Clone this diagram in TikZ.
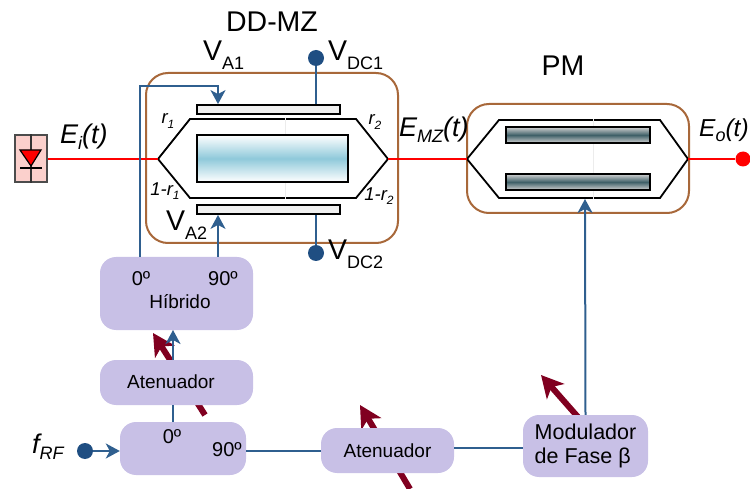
\documentclass[tikz,border=0pt]{standalone}
\usepackage{fontspec}
\setmainfont{Liberation Sans}
\usetikzlibrary{positioning,arrows.meta}
\definecolor{lilac}{HTML}{C8C0E6}
\definecolor{brownbox}{HTML}{A8683A}
\definecolor{bluewire}{HTML}{2F5F8F}
\definecolor{bluedot}{HTML}{1F4E82}
\definecolor{maroon}{HTML}{800020}
\definecolor{pinkbox}{HTML}{FBD0CC}
\definecolor{corecyan}{HTML}{8FC9DA}
\definecolor{armdark}{HTML}{3F6068}
\newcommand{\fsz}[1]{\fontsize{#1}{#1}\selectfont}
\newcommand{\lowsub}[1]{\raisebox{-0.32em}{\fsz{18}#1}}
\newcommand{\itsub}[1]{\raisebox{-0.22em}{\fsz{18}#1}}
\tikzstyle{line}=[draw, line width=2pt]
\tikzstyle{wire}=[line, bluewire]
\tikzstyle{wirearrow}=[wire, -{Stealth[length=14pt,width=15pt,inset=4pt]}]
\tikzstyle{optic}=[line, red]
\tikzstyle{guide}=[line, black, line width=1.8pt, line join=miter]
\tikzstyle{tune}=[draw=maroon, line width=6pt, -{Stealth[length=22pt,width=23pt,inset=6pt]}]
\tikzstyle{lilacbox}=[fill=lilac, rounded corners=16pt, inner sep=0pt]
\tikzstyle{brownframe}=[draw=brownbox, line width=2pt, rounded corners=22pt, inner sep=0pt]
\tikzstyle{plate}=[draw=black, line width=1.8pt, inner sep=0pt, fill=gray!12]
\tikzstyle{darkplate}=[plate, minimum width=144pt, minimum height=16pt, top color=gray!35, bottom color=gray!35, middle color=armdark]
\tikzstyle{dot}=[circle, fill=bluedot, minimum size=16pt, inner sep=0pt]
\tikzstyle{big}=[font=\fsz{28.5}, inner sep=0pt]
\tikzstyle{small}=[font=\fsz{19}, inner sep=0pt]
\tikzstyle{degree}=[font=\fsz{20}, inner sep=0pt]
\tikzstyle{ratio}=[font=\fsz{18.5}\itshape, inner sep=0pt]

\begin{document}
\begin{tikzpicture}[x=1pt, y=-1pt]
    \useasboundingbox (0,0) rectangle (750,489);
    \coordinate (tunea) at (205,415);
    \coordinate (tuneatip) at (153,333);
    \coordinate (tuneb) at (410,489);
    \coordinate (tunebtip) at (360,405);
    \coordinate (tunec) at (585,425);
    \coordinate (tunectip) at (541,375);
    \path[tune] (tunea) -- (tuneatip);
    \path[tune] (tuneb) -- (tunebtip);
    \path[tune] (tunec) -- (tunectip);

    \node[brownframe, minimum width=252pt, minimum height=170pt] (mzframe) at (272,158) {};
    \node[brownframe, minimum width=222pt, minimum height=109pt] (pmframe) at (578,158.5) {};

    \coordinate (mzin) at (158,159);
    \coordinate (mzout) at (388,159);
    \coordinate (pmin) at (467,159);
    \coordinate (pmout) at (688,159);
    \path[guide] (mzin) -- (190,119) -- (356,119) -- (mzout) -- (356,198) -- (190,198) -- cycle;
    \path[guide] (pmin) -- (499,120) -- (660,120) -- (pmout) -- (660,198) -- (499,198) -- cycle;
    \draw[gray!15, line width=1pt] (285,118) -- (285,199);
    \draw[gray!15, line width=1pt] (593,119) -- (593,199);

    \node[plate, minimum width=143pt, minimum height=9pt] (plateup) at (268.5,109.5) {};
    \node[plate, minimum width=143pt, minimum height=9pt] (platedown) at (268.5,209.5) {};
    \node[plate, minimum width=151pt, minimum height=47pt, top color=white, bottom color=white, middle color=corecyan] (core) at (272.5,158.5) {};
    \node[darkplate] (armup) at (578,135) {};
    \node[darkplate] (armdown) at (578,182) {};

    \node[draw=black!70, line width=1.5pt, fill=pinkbox, minimum width=32pt, minimum height=47pt, inner sep=0pt] (laser) at (31,158.5) {};
    \draw[black!80, line width=1.2pt] (laser.north) -- (laser.south);
    \draw[black, line width=1.2pt, fill=red] (20,150) -- (41,150) -- (31,166) -- cycle;
    \draw[black, line width=1.2pt] (20,168) -- (42,168);

    \node[lilacbox, minimum width=153pt, minimum height=73pt] (hibrido) at (176.5,293.5) {};
    \node[lilacbox, minimum width=153pt, minimum height=45pt] (atena) at (176.5,382.5) {};
    \node[lilacbox, minimum width=126pt, minimum height=53pt] (split) at (183,448.5) {};
    \node[lilacbox, minimum width=133pt, minimum height=45pt, font=\fsz{19}] (atenb) at (387.5,450.5) {Atenuador};
    \node[lilacbox, minimum width=125pt, minimum height=62pt, align=left, font=\fsz{21.5}] (modul) at (585.5,446) {Modulador\\[3pt]de Fase β};

    \node[dot] (vdcup) at (316,58) {};
    \node[dot] (vdcdown) at (316,253) {};
    \node[dot] (frf) at (85,451) {};
    \node[circle, fill=red, minimum size=15pt, inner sep=0pt] (outdot) at (743,159) {};

    \coordinate (vaup) at (140,86);
    \coordinate (vauptip) at (218,86);
    \coordinate (pmtip) at (585,199);
    \path[optic] (laser.east |- mzin) -- (mzin);
    \path[optic] (mzout) -- (pmin);
    \path[optic] (pmout) -- (outdot);
    \path[wire] (vdcup) -- (vdcup |- plateup.north);
    \path[wire] (vdcdown) -- (vdcdown |- platedown.south);
    \path[wirearrow] (vaup |- hibrido.north) -- (vaup) -- (vauptip) -- (vauptip |- plateup.north);
    \path[wirearrow] (vauptip |- hibrido.north) -- (vauptip |- platedown.south);
    \path[wire] (173,422) -- (173,405);
    \path[wirearrow] (173,360) -- (173,330);
    \path[wire] (split.east |- atenb) -- (atenb);
    \path[wire] (atenb.east |- 0,448) -- (modul.west |- 0,448);
    \path[wirearrow] (modul.north) -- (pmtip);
    \path[wirearrow] (frf) -- (split.west |- frf);

    \node[big] (mzname) at (272,22) {DD-MZ};
    \node[big] (pmname) at (563,66) {PM};
    \node[big, anchor=west] (vaone) at (203,55) {V\lowsub{A1}};
    \node[big, anchor=west] (vatwo) at (166,225) {V\lowsub{A2}};
    \node[big, anchor=west] (vdcone) at (328,55) {V\lowsub{DC1}};
    \node[big, anchor=west] (vdctwo) at (328,254) {V\lowsub{DC2}};
    \node[big, anchor=west, font=\fsz{27}\itshape] (ein) at (60,137) {E\itsub{i}(t)};
    \node[big, anchor=west, font=\fsz{27}\itshape] (emz) at (399,130) {E\itsub{MZ}(t)};
    \node[big, anchor=west, font=\fsz{24.5}\itshape] (eout) at (699,130) {E\itsub{o}(t)};
    \node[big, anchor=west, font=\fsz{27}\itshape] (frftxt) at (32,447) {f\itsub{RF}};

    \node[ratio] (rone) at (168,121) {r\raisebox{-0.25em}{\fsz{12}1}};
    \node[ratio] (rtwo) at (375,122) {r\raisebox{-0.25em}{\fsz{12}2}};
    \node[ratio] (rthree) at (165,191) {1-r\raisebox{-0.25em}{\fsz{12}1}};
    \node[ratio] (rfour) at (379,196) {1-r\raisebox{-0.25em}{\fsz{12}2}};

    \node[degree] (hibzero) at (141,279) {0º};
    \node[degree] (hibninety) at (223,279) {90º};
    \node[small] (hibtxt) at (180,302) {Híbrido};
    \node[small] (atentxt) at (171,382) {Atenuador};
    \node[degree] (splitzero) at (172,437) {0º};
    \node[degree] (splitninety) at (227,450) {90º};
\end{tikzpicture}
\end{document}
